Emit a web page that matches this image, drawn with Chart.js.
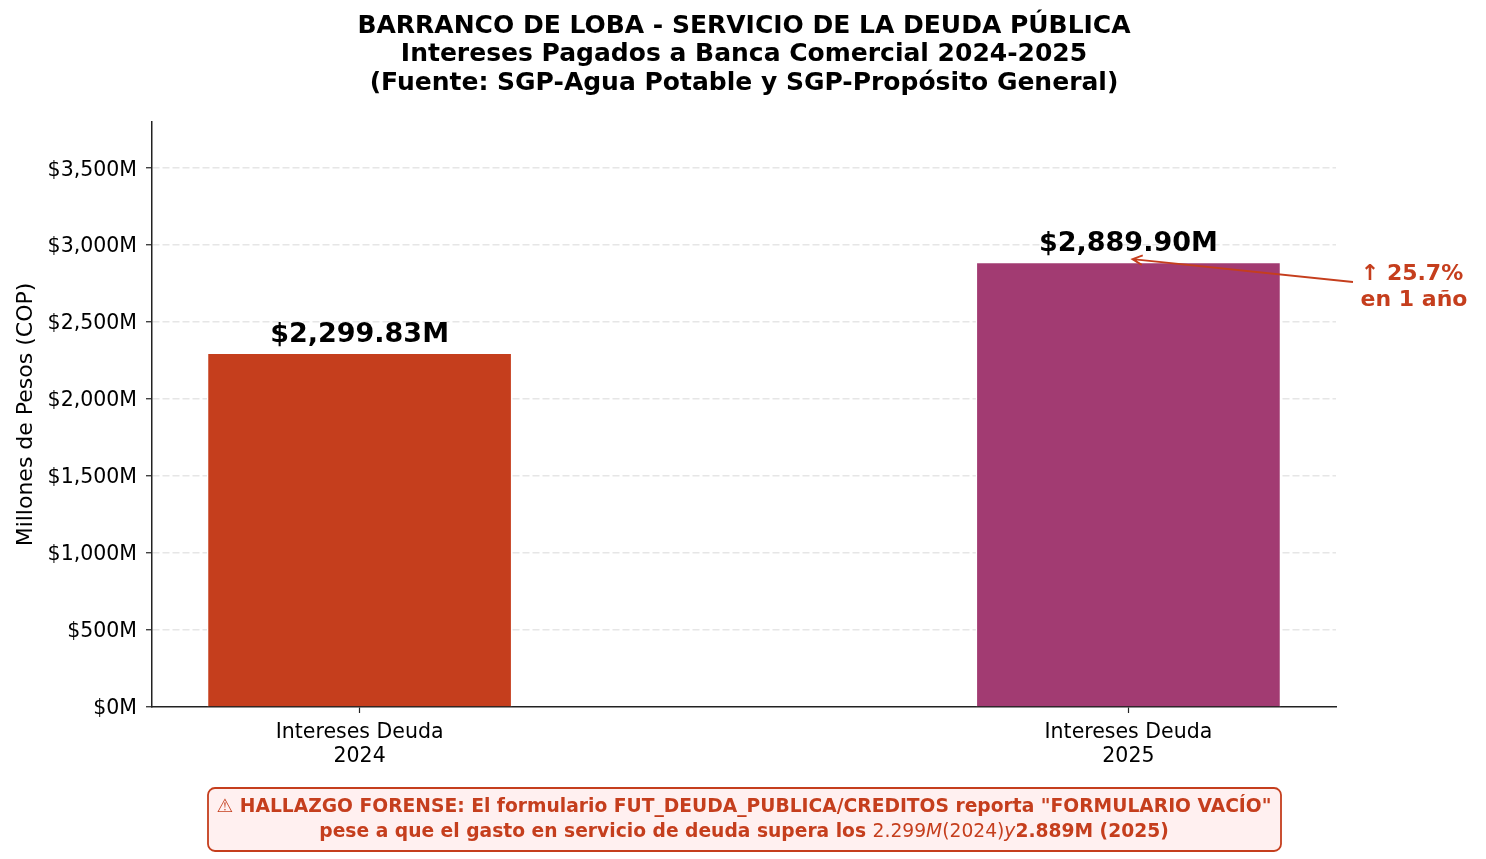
<!DOCTYPE html>
<html>
<head>
<meta charset="utf-8">
<script src="https://cdn.jsdelivr.net/npm/chart.js@4.4.1/dist/chart.umd.min.js"></script>
<style>
    html, body { margin: 0; padding: 0; background: #ffffff; }
    #wrap { width: 1486px; height: 859px; position: relative; }
</style>
</head>
<body>
<div id="wrap"><canvas id="chart"></canvas></div>
<script>
const CATEGORIES = [['Intereses Deuda', '2024'], ['Intereses Deuda', '2025']];
const VALUES = [2299.83, 2889.90];
const VALUE_LABELS = ['$2,299.83M', '$2,889.90M'];
const Y_TICKS = [0, 500, 1000, 1500, 2000, 2500, 3000, 3500];

const TITLE = [
    'BARRANCO DE LOBA - SERVICIO DE LA DEUDA PÚBLICA',
    'Intereses Pagados a Banca Comercial 2024-2025',
    '(Fuente: SGP-Agua Potable y SGP-Propósito General)',
];
const GROWTH = ['↑ 25.7%', 'en 1 año'];

const RUST = '#c53e1d';
const PLUM = '#a23b72';
const GRID = '#e6e6e6';
const FONT = "'DejaVu Sans', sans-serif";

function fmtMoney(v) {
    return '$' + v.toLocaleString('en-US') + 'M';
}

const overlay = {
    id: 'overlay',
    afterDraw(chart) {
        const ctx = chart.ctx;
        const x = chart.scales.x;
        const y = chart.scales.y;
        ctx.save();

        // title
        ctx.fillStyle = '#000';
        ctx.textAlign = 'center';
        ctx.textBaseline = 'middle';
        ctx.font = `bold 25px ${FONT}`;
        TITLE.forEach((line, i) => ctx.fillText(line, 744, 26 + i * 28.5));

        // y axis label
        ctx.save();
        ctx.translate(26, (chart.chartArea.top + chart.chartArea.bottom) / 2);
        ctx.rotate(-Math.PI / 2);
        ctx.font = `22px ${FONT}`;
        ctx.fillText('Millones de Pesos (COP)', 0, 0);
        ctx.restore();

        // value labels
        ctx.font = `bold 27px ${FONT}`;
        ctx.textBaseline = 'alphabetic';
        VALUES.forEach((v, i) => {
            ctx.fillText(VALUE_LABELS[i], x.getPixelForValue(i), y.getPixelForValue(v) - 11);
        });

        // growth annotation arrow
        const tipX = x.getPixelForValue(1) + 4;
        const tipY = y.getPixelForValue(VALUES[1]) - 3;
        const tailX = 1353, tailY = 282;
        ctx.strokeStyle = RUST;
        ctx.lineWidth = 1.8;
        ctx.beginPath();
        ctx.moveTo(tailX, tailY);
        ctx.lineTo(tipX, tipY);
        const ang = Math.atan2(tailY - tipY, tailX - tipX);
        ctx.moveTo(tipX + 11 * Math.cos(ang + 0.45), tipY + 11 * Math.sin(ang + 0.45));
        ctx.lineTo(tipX, tipY);
        ctx.lineTo(tipX + 11 * Math.cos(ang - 0.45), tipY + 11 * Math.sin(ang - 0.45));
        ctx.stroke();

        ctx.fillStyle = RUST;
        ctx.font = `bold 22px ${FONT}`;
        ctx.textBaseline = 'middle';
        ctx.fillText(GROWTH[0], 1412, 274);
        ctx.fillText(GROWTH[1], 1414, 300);

        // forensic finding box
        ctx.fillStyle = '#fff0f0';
        ctx.strokeStyle = RUST;
        ctx.lineWidth = 1.8;
        ctx.beginPath();
        ctx.roundRect(208, 788, 1073, 63, 7);
        ctx.fill();
        ctx.stroke();

        const fs = 18.7;
        ctx.fillStyle = RUST;
        ctx.font = `bold ${fs}px ${FONT}`;
        ctx.fillText('⚠ HALLAZGO FORENSE: El formulario FUT_DEUDA_PUBLICA/CREDITOS reporta "FORMULARIO VACÍO"', 744, 807);

        const parts = [
            ['pese a que el gasto en servicio de deuda supera los ', `bold ${fs}px ${FONT}`],
            ['2.299', `${fs}px ${FONT}`],
            ['M', `italic ${fs}px ${FONT}`],
            ['(2024)', `${fs}px ${FONT}`],
            ['y', `italic ${fs}px ${FONT}`],
            ['2.889M (2025)', `bold ${fs}px ${FONT}`],
        ];
        let total = 0;
        parts.forEach(([t, f]) => { ctx.font = f; total += ctx.measureText(t).width; });
        let cx = 744 - total / 2;
        ctx.textAlign = 'left';
        parts.forEach(([t, f]) => {
            ctx.font = f;
            ctx.fillText(t, cx, 832);
            cx += ctx.measureText(t).width;
        });

        ctx.restore();
    },
};

new Chart(document.getElementById('chart'), {
    type: 'bar',
    data: {
        datasets: [{
            data: VALUES.map((v, i) => ({ x: i, y: v })),
            backgroundColor: [RUST, PLUM],
            borderColor: '#ffffff',
            borderWidth: 1.5,
            barThickness: 305,
        }],
    },
    options: {
        responsive: true,
        maintainAspectRatio: false,
        animation: false,
        layout: { padding: { top: 122, right: 150, left: 0, bottom: 0 } },
        plugins: {
            legend: { display: false },
            tooltip: { enabled: false },
            title: { display: false },
        },
        scales: {
            x: {
                type: 'linear',
                min: -0.27,
                max: 1.27,
                offset: false,
                afterFit: (s) => { s.height = 152; },
                afterBuildTicks: (s) => { s.ticks = [{ value: 0 }, { value: 1 }]; },
                ticks: {
                    color: '#000',
                    font: { family: FONT, size: 20.5 },
                    padding: 7,
                    maxRotation: 0,
                    autoSkip: false,
                    callback: (v) => CATEGORIES[v],
                },
                grid: {
                    display: true,
                    offset: false,
                    drawOnChartArea: false,
                    tickLength: 6,
                    tickColor: '#222',
                    tickWidth: 1.2,
                },
                border: { display: true, color: '#222', width: 1.5 },
            },
            y: {
                min: 0,
                max: 3800,
                afterFit: (s) => { s.width = 152; },
                afterBuildTicks: (s) => { s.ticks = Y_TICKS.map((value) => ({ value })); },
                ticks: {
                    color: '#000',
                    font: { family: FONT, size: 20.5 },
                    padding: 9,
                    labelOffset: 2,
                    callback: (v) => fmtMoney(v),
                },
                grid: {
                    color: (c) => (c.tick && c.tick.value === 0 ? 'rgba(0,0,0,0)' : GRID),
                    lineWidth: 1.5,
                    tickLength: 6,
                    tickColor: '#222',
                    tickWidth: 1.2,
                    tickBorderDash: [],
                },
                border: { display: true, color: '#222', width: 1.5, dash: [7, 3] },
            },
        },
    },
    plugins: [overlay],
});
</script>
</body>
</html>
